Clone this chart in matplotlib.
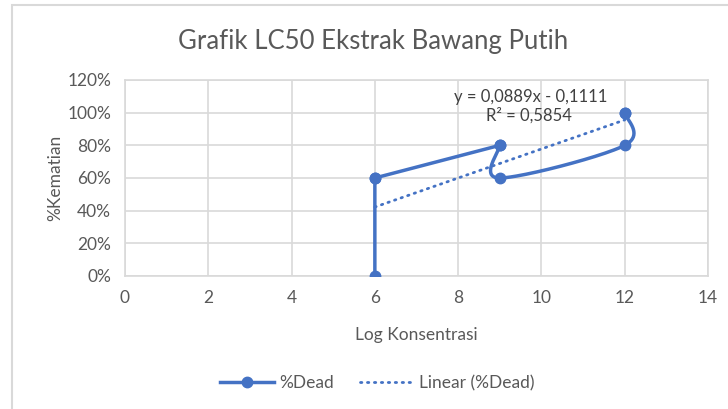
import numpy as np
import matplotlib
matplotlib.use("Agg")
import matplotlib.pyplot as plt
from matplotlib.patches import Rectangle
from matplotlib.ticker import FuncFormatter

plt.rcParams['font.family'] = ['Lato', 'DejaVu Sans']

# Data (9 observations, in worksheet order)
log_konsentrasi = [6, 6, 6, 9, 9, 9, 12, 12, 12]
pct_dead = [0.0, 0.6, 0.6, 0.8, 0.8, 0.6, 0.8, 1.0, 1.0]
x_ticks = [0, 2, 4, 6, 8, 10, 12, 14]
y_ticks = [0, 0.2, 0.4, 0.6, 0.8, 1.0, 1.2]

BLUE = '#4472C4'
GRID = '#D9D9D9'
TXT = '#595959'

xs = np.array(log_konsentrasi, dtype=float)
ys = np.array(pct_dead, dtype=float)
slope, intercept = np.polyfit(xs, ys, 1)
pred = slope*xs + intercept
r2 = 1 - np.sum((ys-pred)**2)/np.sum((ys-ys.mean())**2)

fig = plt.figure(figsize=(7.28, 4.09), dpi=100)
ax = fig.add_axes([125/728, 1-276/409, (708-125)/728, (276-80)/409])

# Excel-like smooth line (Catmull-Rom Bezier in display-scaled space)
sx, sy = 41.67, 163.0
P = np.column_stack([xs*sx, ys*sy])
n = len(P)
curve = []
for i in range(n-1):
    p1 = P[i]
    p2 = P[i+1]
    if np.allclose(p1, p2):
        continue  # coincident points: nothing to draw
    p0 = P[i-1] if i > 0 else P[i]
    p3 = P[i+2] if i+2 < n else P[i+1]
    c1 = p1 + (p2 - p0)/6
    c2 = p2 - (p3 - p1)/6
    t = np.linspace(0, 1, 40)[:, None]
    seg = (1-t)**3*p1 + 3*(1-t)**2*t*c1 + 3*(1-t)*t**2*c2 + t**3*p2
    curve.append(seg if not curve else seg[1:])
curve = np.vstack(curve)

ax.plot(curve[:, 0]/sx, curve[:, 1]/sy, color=BLUE, lw=2.5, solid_capstyle='round',
        solid_joinstyle='round', zorder=3)
ax.plot(xs, ys, 'o', color=BLUE, ms=7.5, zorder=4)

# Trendline
dot = (0, (0.5, 2.0))
xt = np.array([xs.min(), xs.max()])
ax.plot(xt, slope*xt + intercept, color=BLUE, lw=2.0, linestyle=dot,
        dash_capstyle='round', zorder=2)

# Legend proxies
ax.plot([], [], color=BLUE, lw=2.5, marker='o', ms=7.5, label='%Dead')
ax.plot([], [], color=BLUE, lw=2.0, linestyle=dot, dash_capstyle='round',
        label='Linear (%Dead)')

sign = '-' if intercept < 0 else '+'
eq = f"y = {slope:.4f}x {sign} {abs(intercept):.4f}".replace('.', ',')
ax.text(9.75, 1.096, eq, ha='center', va='center', fontsize=12, color='#404040')
ax.text(9.7, 0.98, f"R² = {r2:.4f}".replace('.', ','), ha='center', va='center',
        fontsize=12, color='#404040')

ax.set_xlim(0, 14)
ax.set_ylim(0, 1.2)
ax.set_xticks(x_ticks)
ax.set_yticks(y_ticks)
ax.yaxis.set_major_formatter(FuncFormatter(lambda v, p: f"{v*100:.0f}%"))
ax.grid(True, color=GRID, lw=1.2)
ax.set_axisbelow(True)
for s in ax.spines.values():
    s.set_color(GRID)
    s.set_linewidth(1.2)
ax.tick_params(length=0, labelsize=12.5, colors=TXT)
ax.tick_params(axis='x', pad=10)
ax.tick_params(axis='y', pad=10)

ax.set_xlabel('Log Konsentrasi', fontsize=12.5, color=TXT, labelpad=15)
ax.set_ylabel('%Kematian', fontsize=12.5, color=TXT, labelpad=3)
fig.text(373/728, 1-42/409, 'Grafik LC50 Ekstrak Bawang Putih', ha='center', va='center',
         fontsize=18.5, color=TXT)

handles, labels = ax.get_legend_handles_labels()
fig.legend(handles[-2:], labels[-2:], loc='center', bbox_to_anchor=(377/728, 1-383/409),
           ncol=2, frameon=False, fontsize=12.5, labelcolor=TXT, handlelength=3.1,
           handletextpad=0.3, columnspacing=1.5)

fig.add_artist(Rectangle((11.5/728, -0.1), 1.2, (1-5/409)+0.1, transform=fig.transFigure,
                         fill=False, edgecolor=GRID, lw=1.5))

fig.savefig('out.png', dpi=100, facecolor='white')
